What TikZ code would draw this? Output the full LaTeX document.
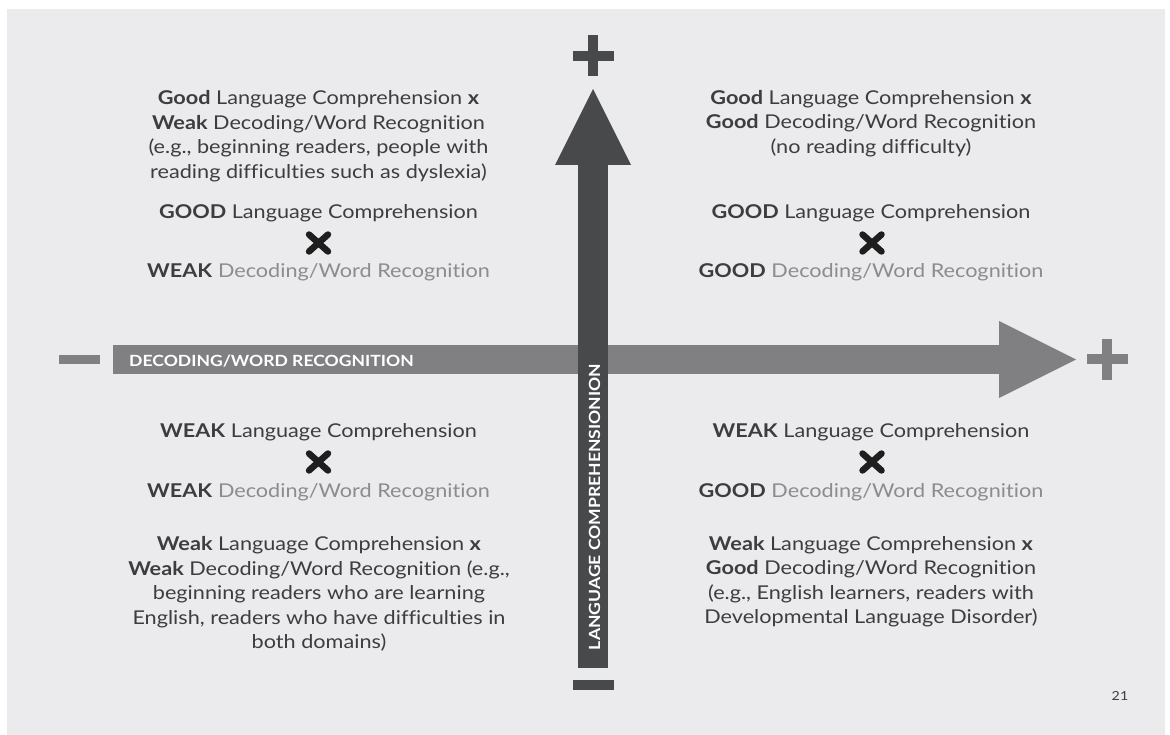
\documentclass[tikz,border=0pt]{standalone}
\usepackage{fontspec}
\setmainfont{Lato}[FakeStretch=1.14,Ligatures=NoCommon]
\definecolor{panel}{HTML}{EBEBED}
\definecolor{hbar}{HTML}{808083}
\definecolor{vbar}{HTML}{48494B}
\definecolor{txt}{HTML}{3D3D3F}
\definecolor{ltxt}{HTML}{8C8C8E}
\definecolor{xmark}{HTML}{1E1E1E}
\begin{document}
\begin{tikzpicture}[x=1pt,y=-1pt,
  body/.style={align=center,text=txt,inner sep=0pt,font=\fontsize{19}{24.5}\selectfont},
  barlabel/.style={text=white,inner sep=0pt,font=\bfseries\fontsize{15.4}{17}\selectfont},
  xm/.style={line width=6.5pt,line cap=round,draw=xmark}]
\useasboundingbox (0,0) rectangle (1170,735);
\fill[white] (0,0) rectangle (1170,735);
\fill[panel] (7,9) rectangle (1165,735);
% horizontal arrow
\fill[hbar] (113,345) rectangle (999,374);
\fill[hbar] (999,321) -- (1076,359.5) -- (999,398) -- cycle;
\fill[hbar] (59,355) rectangle (100,364);
\fill[hbar] (1087,354) rectangle (1128,364);
\fill[hbar] (1102,339) rectangle (1112,380);
\node[barlabel,anchor=west] (hlabel) at (129,361.5) {DECODING/WORD RECOGNITION};
% vertical arrow
\fill[vbar] (578,165) rectangle (608,668);
\fill[vbar] (555,165) -- (593,89) -- (631,165) -- cycle;
\fill[vbar] (573,51) rectangle (614,61);
\fill[vbar] (588,35) rectangle (598,76);
\fill[vbar] (573,680) rectangle (614,690);
\node[barlabel,rotate=90] (vlabel) at (594.5,507) {LANGUAGE COMPREHENSIONION};
% top left
\node[body] (tl) at (318.5,136) {\textbf{Good} Language Comprehension \textbf{x}\\
\textbf{Weak} Decoding/Word Recognition\\
(e.g., beginning readers, people with\\
reading difficulties such as dyslexia)};
\node[body] (tlg) at (318.5,213) {\textbf{GOOD} Language Comprehension};
\draw[xm] (309,234.5) -- (328,251.5) (309,251.5) -- (328,234.5);
\node[body] (tlw) at (318.5,272) {\textbf{WEAK} \textcolor{ltxt}{Decoding/Word Recognition}};
% top right
\node[body] (tr) at (871,123.5) {\textbf{Good} Language Comprehension \textbf{x}\\
\textbf{Good} Decoding/Word Recognition\\
(no reading difficulty)};
\node[body] (trg) at (871,213) {\textbf{GOOD} Language Comprehension};
\draw[xm] (862.5,234.5) -- (881.5,251.5) (862.5,251.5) -- (881.5,234.5);
\node[body] (trw) at (871,272) {\textbf{GOOD} \textcolor{ltxt}{Decoding/Word Recognition}};
% bottom left
\node[body] (blw) at (318.5,432) {\textbf{WEAK} Language Comprehension};
\draw[xm] (309,453.5) -- (328,470.5) (309,470.5) -- (328,453.5);
\node[body] (blw2) at (318.5,492) {\textbf{WEAK} \textcolor{ltxt}{Decoding/Word Recognition}};
\node[body] (bl) at (319,594) {\textbf{Weak} Language Comprehension \textbf{x}\\
\textbf{Weak} Decoding/Word Recognition (e.g.,\\
beginning readers who are learning\\
English, readers who have difficulties in\\
both domains)};
% bottom right
\node[body] (brw) at (871,432) {\textbf{WEAK} Language Comprehension};
\draw[xm] (862.5,453.5) -- (881.5,470.5) (862.5,470.5) -- (881.5,453.5);
\node[body] (brg) at (871,492) {\textbf{GOOD} \textcolor{ltxt}{Decoding/Word Recognition}};
\node[body] (br) at (871,581.5) {\textbf{Weak} Language Comprehension \textbf{x}\\
\textbf{Good} Decoding/Word Recognition\\
(e.g., English learners, readers with\\
Developmental Language Disorder)};
\node[text=txt,inner sep=0pt,font=\fontsize{12.5}{14}\selectfont] (page) at (1120,696) {21};
\end{tikzpicture}
\end{document}
